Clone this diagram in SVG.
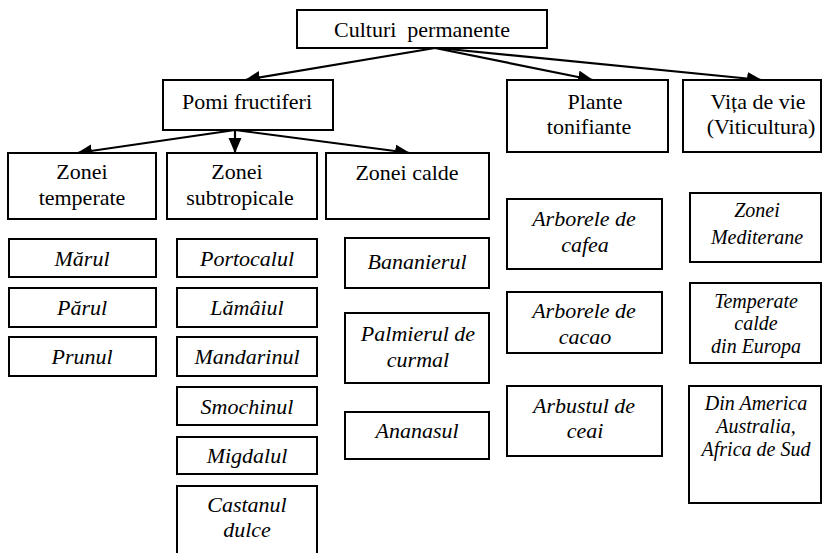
<svg xmlns="http://www.w3.org/2000/svg" width="823" height="553" viewBox="0 0 823 553" font-family="'Liberation Serif', 'Times New Roman', 'DejaVu Serif', serif">
  <defs>
    <marker id="arrow" markerUnits="userSpaceOnUse" markerWidth="16" markerHeight="14" refX="15" refY="6.5" orient="auto">
      <path d="M0,0 L15,6.5 L0,13 Z" fill="#000"/>
    </marker>
    <style>
      rect { fill: #fff; stroke: #000; stroke-width: 2; }
      text { font-family: "Liberation Serif", "Times New Roman", "DejaVu Serif", serif; font-size: 22px; fill: #000; text-anchor: middle; }
      .it { font-style: italic; }
      .sm { font-size: 20px; }
      .edge { stroke: #000; stroke-width: 2.2; fill: none; marker-end: url(#arrow); }
    </style>
  </defs>
  <rect x="0" y="0" width="823" height="553" style="fill:#fff;stroke:none"/>

  <!-- connectors -->
  <g id="connectors">
    <line class="edge" x1="435" y1="48" x2="245" y2="80"/>
    <line class="edge" x1="435" y1="48" x2="593" y2="80"/>
    <line class="edge" x1="438" y1="48" x2="762" y2="80"/>
    <line class="edge" x1="235" y1="130" x2="77" y2="153"/>
    <line class="edge" x1="235" y1="130" x2="235" y2="153"/>
    <line class="edge" x1="235" y1="130" x2="410" y2="153"/>
  </g>

  <!-- root -->
  <g id="culturi-permanente">
    <rect x="297" y="10" width="250" height="38"/>
    <text x="422" y="37" xml:space="preserve">Culturi  permanente</text>
  </g>

  <!-- second level -->
  <g id="pomi-fructiferi">
    <rect x="163" y="80" width="170" height="50"/>
    <text x="247" y="109">Pomi fructiferi</text>
  </g>
  <g id="plante-tonifiante">
    <rect x="507" y="80" width="161" height="72"/>
    <text x="595" y="109">Plante</text>
    <text x="589" y="134">tonifiante</text>
  </g>
  <g id="vita-de-vie">
    <rect x="683" y="80" width="138" height="72"/>
    <text x="758" y="109">Vița de vie</text>
    <text x="761" y="134">(Viticultura)</text>
  </g>

  <!-- fruit tree zones -->
  <g id="zonei-temperate">
    <rect x="8" y="153" width="148" height="66"/>
    <text x="82" y="179">Zonei</text>
    <text x="82" y="205">temperate</text>
  </g>
  <g id="zonei-subtropicale">
    <rect x="167" y="153" width="150" height="66"/>
    <text x="237" y="179">Zonei</text>
    <text x="240" y="205">subtropicale</text>
  </g>
  <g id="zonei-calde">
    <rect x="326" y="153" width="163" height="66"/>
    <text x="407" y="180">Zonei calde</text>
  </g>

  <!-- temperate species -->
  <g id="marul">
    <rect x="9" y="239" width="147" height="38"/>
    <text class="it" x="82" y="266">Mărul</text>
  </g>
  <g id="parul">
    <rect x="9" y="288" width="147" height="39"/>
    <text class="it" x="82" y="315">Părul</text>
  </g>
  <g id="prunul">
    <rect x="9" y="337" width="147" height="39"/>
    <text class="it" x="82" y="364">Prunul</text>
  </g>

  <!-- subtropical species -->
  <g id="portocalul">
    <rect x="177" y="239" width="140" height="38"/>
    <text class="it" x="247" y="266">Portocalul</text>
  </g>
  <g id="lamaiul">
    <rect x="177" y="288" width="140" height="39"/>
    <text class="it" x="247" y="315">Lămâiul</text>
  </g>
  <g id="mandarinul">
    <rect x="177" y="337" width="140" height="39"/>
    <text class="it" x="247" y="364">Mandarinul</text>
  </g>
  <g id="smochinul">
    <rect x="177" y="387" width="140" height="38"/>
    <text class="it" x="247" y="414">Smochinul</text>
  </g>
  <g id="migdalul">
    <rect x="177" y="437" width="140" height="37"/>
    <text class="it" x="247" y="463">Migdalul</text>
  </g>
  <g id="castanul-dulce">
    <rect x="177" y="486" width="140" height="80"/>
    <text class="it" x="247" y="512">Castanul</text>
    <text class="it" x="247" y="537">dulce</text>
  </g>

  <!-- warm-zone species -->
  <g id="bananierul">
    <rect x="345" y="238" width="144" height="50"/>
    <text class="it" x="417" y="269">Bananierul</text>
  </g>
  <g id="palmierul-de-curmal">
    <rect x="345" y="313" width="144" height="70"/>
    <text class="it" x="418" y="341">Palmierul de</text>
    <text class="it" x="418" y="367">curmal</text>
  </g>
  <g id="ananasul">
    <rect x="345" y="412" width="144" height="47"/>
    <text class="it" x="417" y="438">Ananasul</text>
  </g>

  <!-- tonic plants -->
  <g id="arborele-de-cafea">
    <rect x="507" y="199" width="155" height="70"/>
    <text class="it" x="584" y="226">Arborele de</text>
    <text class="it" x="585" y="252">cafea</text>
  </g>
  <g id="arborele-de-cacao">
    <rect x="507" y="292" width="155" height="61"/>
    <text class="it" x="584" y="318">Arborele de</text>
    <text class="it" x="585" y="344">cacao</text>
  </g>
  <g id="arbustul-de-ceai">
    <rect x="507" y="386" width="155" height="70"/>
    <text class="it" x="584" y="413">Arbustul de</text>
    <text class="it" x="585" y="438">ceai</text>
  </g>

  <!-- vine regions -->
  <g id="zonei-mediterane">
    <rect x="690" y="193" width="131" height="69"/>
    <text class="it sm" x="757" y="217">Zonei</text>
    <text class="it sm" x="757" y="244">Mediterane</text>
  </g>
  <g id="temperate-calde">
    <rect x="690" y="283" width="131" height="80"/>
    <text class="it sm" x="756" y="308">Temperate</text>
    <text class="it sm" x="756" y="330">calde</text>
    <text class="it sm" x="756" y="353">din Europa</text>
  </g>
  <g id="din-america">
    <rect x="689" y="386" width="132" height="117"/>
    <text class="it sm" x="756" y="410">Din America</text>
    <text class="it sm" x="756" y="433">Australia,</text>
    <text class="it sm" x="756" y="456">Africa de Sud</text>
  </g>
</svg>
